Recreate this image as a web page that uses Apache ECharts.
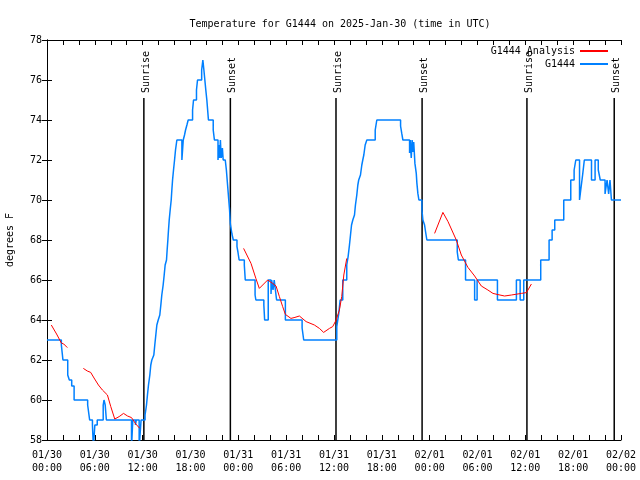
<!DOCTYPE html>
<html><head><meta charset="utf-8">
<script src="https://cdn.jsdelivr.net/npm/echarts@6/dist/echarts.min.js"></script>
<style>html,body{margin:0;padding:0;background:#fff}#c{width:640px;height:480px}</style>
</head><body><div id="c"></div>
<script>
const titleText = 'Temperature for G1444 on 2025-Jan-30 (time in UTC)';
const yAxisName = 'degrees F';
const xTickLabels = ['01/30\n00:00','01/30\n06:00','01/30\n12:00','01/30\n18:00','01/31\n00:00','01/31\n06:00','01/31\n12:00','01/31\n18:00','02/01\n00:00','02/01\n06:00','02/01\n12:00','02/01\n18:00','02/02\n00:00'];
const observedName = 'G1444';
const analysisName = 'G1444 Analysis';
// hours since 01/30 00:00 UTC, degrees F
const observed = [
[0,63.0],[1.8,62.75],[2.0,62.0],[2.6,61.25],[2.8,61.0],[3.1,60.7],[3.4,60.0],[5.1,59.75],[5.35,59.0],[5.7,58.75],[5.82,57.6],[6.0,58.75],[6.3,59.0],
[7.05,59.75],[7.15,60.0],[7.3,59.75],[7.45,59.0],[10.6,57.6],[10.76,59.0],[11.1,58.75],[11.2,59.0],[11.56,57.6],[11.8,59.0],
[12.3,59.25],[12.48,59.75],[12.6,60.25],[12.73,60.75],[12.9,61.25],[13.02,61.75],[13.15,62.0],[13.4,62.25],[13.52,62.75],[13.65,63.25],[13.78,63.75],[13.95,64.0],
[14.15,64.25],[14.28,64.75],[14.4,65.25],[14.57,65.75],[14.7,66.25],[14.82,66.75],[14.99,67.0],[15.07,67.5],[15.16,68.0],[15.24,68.5],[15.33,69.0],[15.45,69.5],
[15.58,70.0],[15.66,70.5],[15.75,71.0],[15.87,71.5],[16.0,72.0],[16.12,72.5],[16.29,73.0],[16.92,72.0],[17.09,73.0],[17.25,73.25],[17.38,73.5],[17.55,73.75],
[17.71,74.0],[18.26,74.5],[18.38,75.0],[18.75,75.5],[18.88,76.0],[19.4,76.5],[19.55,77.0],[19.68,76.5],[19.8,76.0],[19.92,75.5],[20.05,75.0],[20.15,74.5],[20.25,74.0],
[20.85,73.5],[21.0,73.0],[21.45,72.0],[21.55,72.75],[21.65,72.1],[21.75,73.0],[21.85,72.1],[22.0,72.6],[22.1,72.0],[22.36,71.9],[22.5,71.5],[22.6,71.0],[22.7,70.5],
[22.8,70.0],[22.9,69.5],[23.0,68.8],[23.2,68.3],[23.37,68.0],[23.83,67.67],[23.95,67.4],[24.1,67.0],[24.75,66.75],[24.87,66.0],[26.1,65.25],[26.2,65.0],
[27.2,64.75],[27.3,64.0],[27.75,66.0],[28.1,65.3],[28.18,66.0],[28.35,65.5],[28.5,66.0],[28.65,65.5],[28.8,65.0],[29.9,64.0],[32.0,63.6],[32.2,63.0],
[36.35,63.67],[36.6,64.33],[36.77,65.0],[37.1,66.0],[37.6,66.75],[37.77,67.17],[37.94,67.75],[38.07,68.25],[38.2,68.75],[38.36,69.0],[38.57,69.25],[38.69,69.75],
[38.86,70.25],[38.99,70.75],[39.1,71.0],[39.32,71.25],[39.49,71.75],[39.61,72.0],[39.74,72.25],[39.91,72.75],[40.12,73.0],[41.17,73.5],[41.37,74.0],
[44.35,73.7],[44.5,73.33],[44.64,73.0],[45.48,72.35],[45.56,73.0],[45.69,72.1],[45.8,73.0],[45.9,72.4],[46.0,72.9],[46.15,71.83],[46.32,71.33],[46.4,70.83],
[46.52,70.33],[46.65,70.0],[47.03,69.5],[47.15,69.0],[47.36,68.75],[47.49,68.4],[47.65,68.0],[51.46,67.4],[51.6,67.0],[52.5,66.0],[53.64,65.0],[53.95,66.0],
[56.5,65.0],[58.88,66.0],[59.35,65.0],[59.8,66.0],[61.93,67.0],[62.98,68.0],[63.36,68.5],[63.69,69.0],[64.82,70.0],[65.7,71.0],[66.12,71.5],[66.33,72.0],
[66.8,70.0],[66.95,70.5],[67.2,71.3],[67.4,72.0],[68.3,71.0],[68.75,72.0],[69.15,71.5],[69.4,71.0],[70.0,70.3],[70.25,71.0],[70.45,70.3],[70.62,71.0],[70.8,70.0],[72,70.0]
];
const analysis = [
[0.54,63.75],[1.2,63.3],[1.8,62.85],[2.1,62.8],[2.55,62.62],[3.5,'-'],
[4.56,61.58],[5.06,61.45],[5.48,61.38],[5.9,61.1],[6.45,60.75],[6.95,60.5],[7.58,60.25],[8.0,59.67],[8.5,59.05],[9.05,59.17],[9.6,59.33],[10.1,59.2],[10.6,59.12],[11.14,58.8],[11.64,58.58],[18,'-'],
[24.66,67.58],[25.59,66.83],[26.2,66.08],[26.63,65.58],[27.68,66.0],[28.3,65.83],[28.73,65.7],[29.15,65.17],[29.56,64.67],[29.9,64.28],[30.6,64.08],[31.1,64.13],[31.66,64.2],[32.5,63.92],[33.54,63.75],[34.17,63.58],[34.7,63.38],[35.43,63.58],[35.84,63.67],[36.27,64.0],[36.68,64.5],[36.97,65.17],[37.23,66.25],[37.6,67.08],[42,'-'],
[48.62,68.33],[49.66,69.38],[50.3,68.92],[51.34,68.0],[51.97,67.25],[52.8,66.63],[53.64,66.2],[54.48,65.7],[55.3,65.5],[55.94,65.33],[56.57,65.27],[57.4,65.2],[58.25,65.25],[59.5,65.33],[60.14,65.37],[60.76,65.8]
];
const sunTimes = [12.15, 23.0, 36.25, 47.05, 60.2, 71.15];
const sunNames = ['Sunrise','Sunset','Sunrise','Sunset','Sunrise','Sunset'];

const FONT = '"DejaVu Sans Mono", "Liberation Mono", monospace';
const chart = echarts.init(document.getElementById('c'), null, {renderer:'canvas'});
const axisCommon = {
  axisLine:{show:true, lineStyle:{color:'#000', width:1}},
  axisTick:{show:true, inside:true, length:5, lineStyle:{color:'#000'}},
  splitLine:{show:false}
};
chart.setOption({
  animation:false,
  backgroundColor:'#fff',
  title:{text:titleText, left:335, textAlign:'center', top:14,
    textStyle:{fontFamily:FONT, fontSize:10, fontWeight:'normal', color:'#000'}},
  legend:{orient:'vertical', right:27, top:41, align:'right', itemWidth:28, itemHeight:2, itemGap:3,
    icon:'rect', data:[analysisName, observedName],
    formatter:function(n){return n.padStart(analysisName.length,' ');},
    textStyle:{fontFamily:FONT, fontSize:10, color:'#000'}},
  grid:{left:47, right:19, top:40, bottom:40, containLabel:false, outerBoundsMode:'none'},
  xAxis:[
    Object.assign({type:'value', min:0, max:72, interval:6, position:'bottom',
      minorTick:{show:true, splitNumber:3, length:5, lineStyle:{color:'#000'}},
      axisLabel:{formatter:function(v){return xTickLabels[Math.round(v/6)];}, fontFamily:FONT, fontSize:10, color:'#000', margin:9, lineHeight:13, showMinLabel:true, showMaxLabel:true}}, axisCommon),
    Object.assign({type:'value', min:0, max:72, interval:6, position:'top',
      minorTick:{show:true, splitNumber:3, length:5, lineStyle:{color:'#000'}},
      axisLabel:{show:false}}, axisCommon)
  ],
  yAxis:[
    Object.assign({type:'value', min:58, max:78, interval:2, position:'left',
      name:yAxisName, nameLocation:'middle', nameGap:32, nameRotate:90,
      nameTextStyle:{fontFamily:FONT, fontSize:10, color:'#000'},
      axisLabel:{fontFamily:FONT, fontSize:10, color:'#000', margin:5}}, axisCommon),
    Object.assign({type:'value', min:58, max:78, interval:2, position:'right',
      axisLabel:{show:false}}, axisCommon)
  ],
  series:[
    {type:'custom', name:'sun', xAxisIndex:0, yAxisIndex:0, silent:true, z:1,
      data:sunTimes.map(function(t){return [t];}),
      renderItem:function(params, api){
        var t = api.value(0);
        var p0 = api.coord([t, 58]);
        var p1 = api.coord([t, 75.1]);
        return {type:'group', children:[
          {type:'line', shape:{x1:p0[0], y1:p0[1], x2:p1[0], y2:p1[1]}, style:{stroke:'#000', lineWidth:1.5}},
          {type:'text', x:p1[0]+2.5, y:p1[1]-5, rotation:Math.PI/2,
            style:{text:sunNames[params.dataIndex], fill:'#000', font:'10px ' + FONT, align:'left', verticalAlign:'middle'}}
        ]};
      }},
    {type:'line', name:analysisName, data:analysis, symbol:'none', connectNulls:false, z:3,
      lineStyle:{color:'#ff0000', width:1}, itemStyle:{color:'#ff0000'}},
    {type:'line', name:observedName, data:observed, step:'end', symbol:'none', z:2,
      lineStyle:{color:'#0080ff', width:1.5}, itemStyle:{color:'#0080ff'}}
  ]
});
</script></body></html>
